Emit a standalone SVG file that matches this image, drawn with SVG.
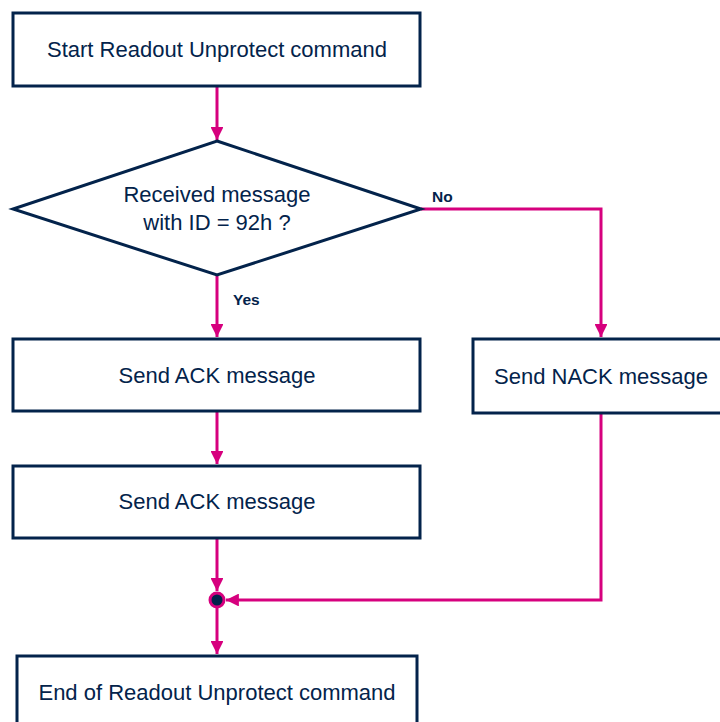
<svg xmlns="http://www.w3.org/2000/svg" width="720" height="722" viewBox="0 0 720 722">
<style>
.box{fill:#fff;stroke:#03234b;stroke-width:3}
.t{font-family:"Liberation Sans",Arial,sans-serif;font-size:22px;fill:#03234b;text-anchor:middle}
.lb{font-family:"Liberation Sans",Arial,sans-serif;font-size:15.5px;font-weight:bold;fill:#03234b}
.c{fill:none;stroke:#d6007e;stroke-width:3}
</style>
<defs>
<marker id="ah" viewBox="0 0 10 10" refX="10" refY="5" markerWidth="4.3" markerHeight="4.3" markerUnits="strokeWidth" orient="auto">
<path d="M0,0 L10,5 L0,10 z" fill="#d6007e"/>
</marker>
</defs>
<rect width="720" height="722" fill="#fff"/>
<g id="connectors">
<path class="c" d="M217,87 V140" marker-end="url(#ah)"/>
<path class="c" d="M421,209 H601 V337" marker-end="url(#ah)"/>
<path class="c" d="M217,275 V337" marker-end="url(#ah)"/>
<path class="c" d="M217,411 V464" marker-end="url(#ah)"/>
<path class="c" d="M217,538 V591" marker-end="url(#ah)"/>
<path class="c" d="M601,413 V600 H226" marker-end="url(#ah)"/>
<path class="c" d="M217,608 V654" marker-end="url(#ah)"/>
<text class="lb" x="432" y="202">No</text>
<text class="lb" x="233" y="305">Yes</text>
</g>
<g id="junction">
<circle cx="217" cy="600" r="7" fill="#03234b" stroke="#d6007e" stroke-width="3"/>
</g>
<g id="start">
<rect class="box" x="13" y="13" width="407" height="73"/>
<text class="t" x="217" y="57">Start Readout Unprotect command</text>
</g>
<g id="decision">
<polygon class="box" points="217,141 421,209 217,275 13,209"/>
<text class="t" x="217" y="202">Received message</text>
<text class="t" x="217" y="230">with ID = 92h ?</text>
</g>
<g id="ack1">
<rect class="box" x="13" y="339" width="407" height="72"/>
<text class="t" x="217" y="383">Send ACK message</text>
</g>
<g id="nack">
<rect class="box" x="473" y="339" width="260" height="74"/>
<text class="t" x="601" y="384">Send NACK message</text>
</g>
<g id="ack2">
<rect class="box" x="13" y="466" width="407" height="72"/>
<text class="t" x="217" y="509">Send ACK message</text>
</g>
<g id="end">
<rect class="box" x="17" y="656" width="400" height="80"/>
<text class="t" x="217" y="700">End of Readout Unprotect command</text>
</g>
</svg>
